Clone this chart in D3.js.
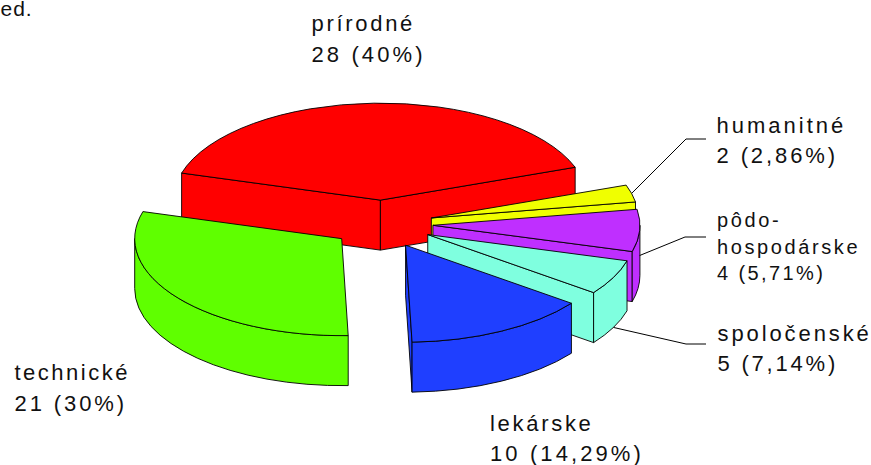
<!DOCTYPE html>
<html>
<head>
<meta charset="utf-8">
<script src="https://cdn.jsdelivr.net/npm/d3@7"></script>
<style>
  html, body { margin: 0; padding: 0; background: #fff; }
  svg { display: block; }
  text { font-family: "Liberation Sans", Arial, sans-serif; fill: #111; }
</style>
</head>
<body>
<svg id="chart" width="871" height="465"></svg>
<script>
// data
const categories = ["prírodné", "humanitné", "pôdohospodárske", "spoločenské", "lekárske", "technické"];
const counts = [28, 2, 4, 5, 10, 21];
// share of the rim each slice takes in the picture, in percent. It follows the
// printed percentages except purple and cyan, whose border sits a bit further on
const rimShare = [40, 2.86, 7.0, 5.85, 14.29, 30];
const colors = ["#ff0000", "#f0ff00", "#bf2fff", "#7fffdf", "#1f3fff", "#5fff00"];
const labelLines = [
    ["prírodné", "28 (40%)"],
    ["humanitné", "2 (2,86%)"],
    ["pôdo-", "hospodárske", "4 (5,71%)"],
    ["spoločenské", "5 (7,14%)"],
    ["lekárske", "10 (14,29%)"],
    ["technické", "21 (30%)"]
];

// layout of the fake 3D pie
const width = 871, height = 465;
const cx = 382, cy = 224;     // pie centre on screen
const rx = 207, ry = 97;      // ellipse radii
const explode = 51;           // slice offset, in rx units
const depth = 50;             // height of the wall
const firstAngle = -73.8 * Math.PI / 180;

// label position per slice: x, first baseline, line step, font size,
// letter spacing of the name and of the number line
const labelPos = [
    { x: 311.5, y: 31, step: 30.5, size: 22, ls: 2.7, valueLs: 3.1 },
    { x: 716.5, y: 133, step: 30, size: 22, ls: 3.0, valueLs: 2.9 },
    { x: 717, y: 227, step: 26.5, size: 20, ls: 2.6, valueLs: 2.4 },
    { x: 717.5, y: 341, step: 30, size: 22, ls: 2.9, valueLs: 2.8 },
    { x: 490, y: 431, step: 30, size: 22, ls: 2.7, valueLs: 3.1 },
    { x: 14.5, y: 380, step: 30.5, size: 22, ls: 2.5, valueLs: 2.9 }
];

// leader lines: elbow position and how far down the wall they start
const leaders = [
    { slice: 1, wall: 0, elbow: [686, 139], end: 706 },
    { slice: 2, wall: 0.5, elbow: [685, 237], end: 706 },
    { slice: 3, wall: 1, elbow: [686, 344], end: 706 }
];

const svg = d3.select("#chart");

const pie = d3.pie().sort(null).value(d => d)
    .startAngle(firstAngle).endAngle(firstAngle + 2 * Math.PI);
const slices = pie(rimShare);

const xS = d3.scaleLinear().domain([-1, 1]).range([-rx, rx]);
const yS = d3.scaleLinear().domain([-1, 1]).range([-ry, ry]);

function apexOf(s) {
    // every slice slides out along its own middle angle
    const mid = (s.startAngle + s.endAngle) / 2;
    return [cx + explode * Math.sin(mid), cy - explode * (ry / rx) * Math.cos(mid)];
}

function rimPoint(apex, a, dy) {
    return [apex[0] + xS(Math.sin(a)), apex[1] + yS(-Math.cos(a)) + dy];
}

function arcTo(p, clockwise) {
    return `A${rx},${ry} 0 0 ${clockwise ? 1 : 0} ${p[0]},${p[1]}`;
}

function drawFace(color, d) {
    svg.append("path")
        .attr("d", d)
        .attr("fill", color)
        .attr("stroke", "#000")
        .attr("stroke-width", 0.9)
        .attr("stroke-linejoin", "round");
}

function radialFace(apex, a) {
    const p = rimPoint(apex, a, 0);
    return `M${apex[0]},${apex[1]}L${p[0]},${p[1]}L${p[0]},${p[1] + depth}L${apex[0]},${apex[1] + depth}Z`;
}

function drawSlice(s, i) {
    const apex = apexOf(s);
    const color = colors[i];
    const a0 = s.startAngle, a1 = s.endAngle;

    // radial walls, only the ones that face the viewer
    if (Math.cos(a0 - Math.PI / 2) < 0) drawFace(color, radialFace(apex, a0));
    if (Math.cos(a1 + Math.PI / 2) < 0) drawFace(color, radialFace(apex, a1));

    // outer wall, only the front half of the rim
    const w0 = Math.max(a0, Math.PI / 2), w1 = Math.min(a1, 3 * Math.PI / 2);
    if (w1 > w0) {
        const t0 = rimPoint(apex, w0, 0), t1 = rimPoint(apex, w1, 0);
        const b0 = rimPoint(apex, w0, depth), b1 = rimPoint(apex, w1, depth);
        drawFace(color, `M${t0}${arcTo(t1, true)}L${b1}${arcTo(b0, false)}Z`);
    }

    // top
    const p0 = rimPoint(apex, a0, 0), p1 = rimPoint(apex, a1, 0);
    drawFace(color, `M${apex}L${p0}${arcTo(p1, true)}Z`);
}

slices.forEach(drawSlice);

// leader lines
const leaderLine = d3.line();
leaders.forEach(l => {
    const s = slices[l.slice];
    const mid = (s.startAngle + s.endAngle) / 2;
    const start = rimPoint(apexOf(s), mid, l.wall * depth);
    svg.append("path")
        .attr("d", leaderLine([start, l.elbow, [l.end, l.elbow[1]]]))
        .attr("fill", "none")
        .attr("stroke", "#000")
        .attr("stroke-width", 1);
});

// labels
labelLines.forEach((lines, i) => {
    const pos = labelPos[i];
    lines.forEach((line, j) => {
        const isValue = j === lines.length - 1;
        svg.append("text")
            .attr("x", pos.x)
            .attr("y", pos.y + j * pos.step)
            .attr("font-size", pos.size)
            .attr("letter-spacing", isValue ? pos.valueLs : pos.ls)
            .text(line);
    });
});

// leftover of the surrounding text, as it stands at the picture edge
svg.append("text")
    .attr("x", 0.5)
    .attr("y", 15.5)
    .attr("font-size", 21)
    .attr("letter-spacing", 1)
    .text("ed.");
</script>
</body>
</html>
